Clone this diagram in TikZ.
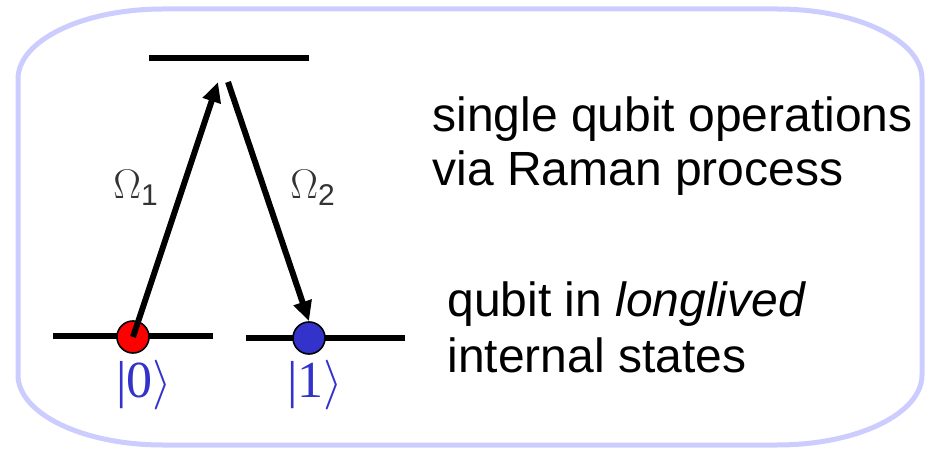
\documentclass[tikz,border=0pt]{standalone}
\usepackage{fontspec}
\setmainfont{Liberation Serif}
\setsansfont{Liberation Sans}
\usetikzlibrary{arrows.meta}
\definecolor{frame}{RGB}{204,204,255}
\definecolor{ketblue}{RGB}{51,51,204}
\tikzset{
  lvl/.style={line width=3pt},
  atom/.style={circle, draw, line width=0.8pt, minimum size=16pt, inner sep=0pt},
  arr/.style={line width=3pt, -{Triangle[length=10pt, width=9pt]}},
  ket/.style={text=ketblue, font=\fontsize{26}{26}\selectfont, inner sep=0pt},
  rabilbl/.style={text=black!80, anchor=base west, inner sep=0pt},
  txt/.style={font=\sffamily\fontsize{24}{28}\selectfont, anchor=base west, inner sep=0pt},
}
\newcommand{\rabi}[1]{{\fontsize{22}{22}\selectfont\rmfamily $\Omega$}\raisebox{-3.5pt}{\sffamily\fontsize{15}{15}\selectfont #1}}
\newcommand{\ketst}[1]{|#1$\rangle$}

\begin{document}
\begin{tikzpicture}[x=0.5pt, y=0.5pt]
\useasboundingbox (0,0) rectangle (932,450);

% ── Rahmen ──────────────────────────────────────────────────
\draw[frame, line width=2.5pt] (18,75) -- (18,371)
  arc[start angle=180, end angle=90, x radius=145, y radius=70] -- (777,441)
  arc[start angle=90, end angle=0, x radius=145, y radius=70] -- (922,75)
  arc[start angle=0, end angle=-90, x radius=145, y radius=70] -- (163,5)
  arc[start angle=270, end angle=180, x radius=145, y radius=70] -- cycle;

% ── Niveaus ─────────────────────────────────────────────────
\draw[lvl] (149,392) -- (309,392);
\draw[lvl] (53,114) -- (213,114);
\draw[lvl] (246,112) -- (405,112);

\node[atom, fill=red] (q0) at (133,113) {};
\node[atom, fill=ketblue] (q1) at (309,112) {};
\coordinate (up1) at (218,368);
\coordinate (up2) at (228,368);

% ── Raman-Uebergang ─────────────────────────────────────────
\draw[arr] (q0.center) -- (up1);
\draw[arr] (up2) -- (q1.north);
\node[rabilbl] (om1) at (113,251) {\rabi{1}};
\node[rabilbl] (om2) at (290,251) {\rabi{2}};

\node[ket] (k0) at (144,65) {\ketst{0}};
\node[ket] (k1) at (315,65) {\ketst{1}};

% ── Text ────────────────────────────────────────────────────
\node[txt] (t1) at (432,318) {single qubit operations};
\node[txt] (t2) at (432,264) {via Raman process};
\node[txt] (t3) at (447,133) {qubit in \textit{longlived}};
\node[txt] (t4) at (447,77) {internal states};

\end{tikzpicture}
\end{document}
